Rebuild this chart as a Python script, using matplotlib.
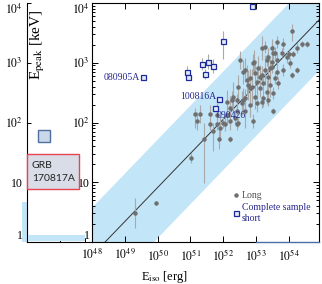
import numpy as np
import matplotlib
matplotlib.use("Agg")
import matplotlib.pyplot as plt
from matplotlib.lines import Line2D
from matplotlib.patches import Rectangle
from matplotlib.ticker import FixedLocator, FixedFormatter, NullLocator, LogLocator

plt.rcParams['font.family'] = 'serif'
plt.rcParams['font.serif'] = ['Liberation Serif', 'DejaVu Serif']
plt.rcParams['mathtext.fontset'] = 'stix'

# ---------------- data (log10 values) ----------------
long_log_eiso = [49.31, 49.95, 51.02, 51.41, 51.14, 51.29, 51.60, 51.60, 51.69, 51.87,
                 51.90, 52.21, 52.05, 52.21, 52.36, 52.45, 52.12, 52.27, 52.42, 54.10,
                 54.40, 54.55, 54.25, 53.82, 53.18, 53.27, 53.64, 53.52, 53.37, 53.79,
                 54.01, 54.13, 53.34, 53.49, 52.91, 53.06, 53.27, 53.43, 53.64, 53.82,
                 52.97, 53.18, 53.37, 53.58, 53.03, 53.21, 53.43, 53.67, 52.88, 53.12,
                 53.34, 53.52, 52.97, 53.21, 52.51, 52.60, 52.73, 52.45, 52.82, 52.30,
                 52.60, 52.21, 52.42, 52.66, 52.12, 52.91, 51.99, 51.81, 53.52, 53.12,
                 53.49, 53.64, 53.95, 53.49, 53.58, 54.04, 54.25, 54.10, 53.37, 53.18,
                 53.03, 52.82, 52.66, 52.42, 52.94, 52.66, 52.82, 52.76, 52.57, 51.20,
                 51.81]
long_log_epeak = [0.49, 0.66, 1.41, 1.73, 2.14, 2.14, 2.14, 1.98, 1.85, 1.73,
                  1.90, 1.73, 1.98, 2.03, 2.07, 2.00, 2.34, 2.37, 2.37, 3.53,
                  3.32, 3.31, 3.25, 3.31, 3.25, 3.27, 3.34, 3.17, 3.10, 3.17,
                  3.14, 3.14, 3.05, 3.02, 3.00, 2.92, 2.88, 2.92, 2.85, 2.88,
                  2.83, 2.80, 2.76, 2.75, 2.68, 2.66, 2.63, 2.66, 2.59, 2.58,
                  2.51, 2.49, 2.42, 2.41, 3.05, 2.85, 2.71, 2.59, 2.58, 2.42,
                  2.37, 2.25, 2.20, 2.20, 2.12, 2.03, 2.00, 2.12, 2.20, 2.76,
                  2.93, 3.05, 3.10, 3.25, 3.17, 3.00, 2.88, 2.80, 2.37, 2.34,
                  2.32, 2.29, 2.41, 1.98, 3.02, 2.88, 2.75, 2.63, 2.32, 2.03,
                  1.98]
long_err_lo = [0.25, 0.03, 0.08, 0.75, 0.24, 0.15, 0.15, 0.10, 0.32, 0.17,
               0.20, 0.05, 0.12, 0.15, 0.10, 0.08, 0.20, 0.15, 0.10, 0.17,
               0.05, 0.05, 0.08, 0.10, 0.20, 0.10, 0.10, 0.12, 0.15, 0.08,
               0.08, 0.05, 0.10, 0.12, 0.15, 0.20, 0.25, 0.15, 0.10, 0.10,
               0.20, 0.15, 0.30, 0.10, 0.20, 0.15, 0.20, 0.10, 0.30, 0.15,
               0.20, 0.10, 0.20, 0.15, 0.15, 0.20, 0.25, 0.20, 0.30, 0.25,
               0.20, 0.20, 0.15, 0.30, 0.15, 0.12, 0.10, 0.20, 0.05, 0.20,
               0.10, 0.10, 0.10, 0.15, 0.10, 0.08, 0.05, 0.05, 0.10, 0.10,
               0.15, 0.20, 0.15, 0.10, 0.20, 0.20, 0.15, 0.25, 0.20, 0.15,
               0.10]
long_err_hi = [0.25, 0.03, 0.08, 0.27, 0.10, 0.15, 0.15, 0.10, 0.14, 0.15,
               0.20, 0.05, 0.12, 0.15, 0.10, 0.08, 0.20, 0.15, 0.10, 0.12,
               0.05, 0.05, 0.08, 0.10, 0.20, 0.10, 0.10, 0.12, 0.15, 0.08,
               0.08, 0.05, 0.10, 0.12, 0.15, 0.20, 0.25, 0.15, 0.10, 0.10,
               0.20, 0.15, 0.30, 0.10, 0.20, 0.15, 0.20, 0.10, 0.30, 0.15,
               0.20, 0.10, 0.20, 0.15, 0.15, 0.20, 0.25, 0.20, 0.30, 0.25,
               0.20, 0.20, 0.15, 0.30, 0.15, 0.12, 0.10, 0.20, 0.05, 0.20,
               0.10, 0.10, 0.10, 0.15, 0.10, 0.08, 0.05, 0.05, 0.10, 0.10,
               0.15, 0.20, 0.15, 0.10, 0.20, 0.20, 0.15, 0.25, 0.20, 0.15,
               0.10]

short_log_eiso = [52.88, 51.99, 50.90, 50.93, 51.35, 51.54, 51.69, 51.45, 49.55, 51.87, 51.75]
short_log_epeak = [3.95, 3.36, 2.85, 2.76, 2.98, 3.02, 2.95, 2.81, 2.76, 2.39, 2.25]
short_err_lo = [0.00, 0.30, 0.10, 0.05, 0.10, 0.12, 0.12, 0.08, 0.00, 0.00, 0.00]
short_err_hi = [0.00, 0.17, 0.10, 0.05, 0.10, 0.12, 0.12, 0.08, 0.00, 0.00, 0.00]
short_names = ['', '', '', '', '', '', '', '', '080905A', '100816A', '090426']

# Amati-like fit and band (log space)
fit_slope = 0.57
fit_x0 = 48.4
band_up = 0.80
band_dn = 0.85

grb170817_epeak = 60.0
x_tick_exps = [48, 49, 50, 51, 52, 53, 54]
y_ticks = [1, 10, 100, 1000, 10000]
y_tick_labels = ['1', '10', r'$10^{2}$', r'$10^{3}$', r'$10^{4}$']

# ---------------- figure ----------------
W, H = 322, 284
fig = plt.figure(figsize=(W / 100, H / 100), dpi=100)

def fx(px):
    return px / W

def fy(py):
    return 1 - py / H

BAND = '#c3e5f8'
BLUE_TXT = '#28288c'
AX_TOP, AX_BOT = 3, 242


def fix_end_labels(a):
    labs = a.get_yticklabels()
    labs[0].set_verticalalignment('bottom')
    labs[-1].set_verticalalignment('top')


# Left narrow panel
axl = fig.add_axes([fx(27), fy(AX_BOT), fx(65), (AX_BOT - AX_TOP) / H])
axl.set_yscale('log')
axl.set_ylim(1, 1e4)
axl.set_xlim(0, 1)
axl.spines['top'].set_visible(False)
axl.spines['right'].set_visible(False)
axl.yaxis.set_major_locator(FixedLocator(y_ticks))
axl.yaxis.set_major_formatter(FixedFormatter(y_tick_labels))
axl.yaxis.set_minor_locator(NullLocator())
axl.xaxis.set_major_locator(FixedLocator([0.51, 0.89]))
axl.set_xticklabels([])
axl.tick_params(axis='both', direction='in', labelsize=8.5, pad=3, length=3, width=0.7)
for s in axl.spines.values():
    s.set_linewidth(0.8)
axl.plot([0.26], [grb170817_epeak], marker='s', ms=8.5, mfc='#cad9ea', mec='#4f6f9f', mew=1.0,
         linestyle='none', clip_on=False)

# Main panel
ax = fig.add_axes([fx(92), fy(AX_BOT), fx(227), (AX_BOT - AX_TOP) / H])
ax.set_xscale('log')
ax.set_yscale('log')
ax.set_xlim(1e48, 10 ** 54.92)
ax.set_ylim(1, 1e4)

xs = np.logspace(47.5, 55.5, 100)
yfit = 10 ** (fit_slope * (np.log10(xs) - fit_x0))
ax.fill_between(xs, yfit * 10 ** (-band_dn), yfit * 10 ** band_up, color=BAND, lw=0, zorder=1)
ax.plot(xs, yfit, color='#333333', lw=0.7, zorder=2)

lx = 10 ** np.array(long_log_eiso)
ly = 10 ** np.array(long_log_epeak)
lerr = [ly - ly * 10 ** (-np.array(long_err_lo)), ly * 10 ** np.array(long_err_hi) - ly]
ax.errorbar(lx, ly, yerr=lerr, fmt='o', ms=2.2, color='#6f6f6f', ecolor='#a9a9a9',
            elinewidth=0.8, capsize=0, zorder=3)

sx = 10 ** np.array(short_log_eiso)
sy = 10 ** np.array(short_log_epeak)
serr = [sy - sy * 10 ** (-np.array(short_err_lo)), sy * 10 ** np.array(short_err_hi) - sy]
ax.errorbar(sx, sy, yerr=serr, fmt='none', ecolor='#a9a9a9', elinewidth=0.8, capsize=0, zorder=3)
ax.plot(sx, sy, 's', ms=3.6, mfc='#e3e9f7', mec='#1c2a9c', mew=0.9, linestyle='none', zorder=4)

offsets = {'080905A': (-2, 0, 'right', 'center'),
           '100816A': (-2, 2, 'right', 'center'),
           '090426': (1, -6, 'left', 'center')}
for name, x, y in zip(short_names, sx, sy):
    if name:
        dx, dy, ha, va = offsets[name]
        ax.annotate(name, (x, y), xytext=(dx, dy), textcoords='offset points',
                    ha=ha, va=va, fontsize=7, color=BLUE_TXT, zorder=5)

ax.xaxis.set_major_locator(FixedLocator([10.0 ** e for e in x_tick_exps]))
ax.xaxis.set_major_formatter(FixedFormatter([r'$10^{%d}$' % e for e in x_tick_exps]))
ax.xaxis.set_minor_locator(NullLocator())
ax.yaxis.set_major_locator(FixedLocator(y_ticks))
ax.yaxis.set_major_formatter(FixedFormatter(y_tick_labels))
ax.yaxis.set_minor_locator(LogLocator(base=10, subs=np.arange(2, 10)))
ax.yaxis.set_minor_formatter(FixedFormatter([]))
ax.tick_params(which='both', direction='in', top=True, right=True, labelsize=8.5, width=0.7)
ax.tick_params(which='major', length=4)
ax.tick_params(which='minor', length=2)
ax.tick_params(axis='y', pad=1.5)
ax.tick_params(axis='x', pad=4)
for s in ax.spines.values():
    s.set_linewidth(0.8)
ax.spines['bottom'].set_bounds(1e48, 1e53)
ax.plot([1e53, 10 ** 54.92], [0.99, 0.99], color='#4a6fa5', lw=1.0, clip_on=False, zorder=6)

fix_end_labels(ax)
fix_end_labels(axl)

ax.set_xlabel(r'E$_{\rm iso}$ [erg]', fontsize=9, labelpad=0)
ax.xaxis.set_label_coords(0.32, -0.115)

handles = [Line2D([], [], marker='o', ms=2.2, color='#6f6f6f', linestyle='none'),
           Line2D([], [], marker='s', ms=3.6, mfc='#e3e9f7', mec='#1c2a9c', mew=0.9, linestyle='none')]
leg = ax.legend(handles, ['Long', 'Complete sample\nshort'], loc='upper left',
                bbox_to_anchor=((233 - 92) / 227, (AX_BOT - 191) / (AX_BOT - AX_TOP)), frameon=False,
                fontsize=7, handlelength=0.6, handletextpad=0.3, labelspacing=0.35,
                borderpad=0, borderaxespad=0)
leg.get_texts()[0].set_color('#505050')
leg.get_texts()[1].set_color(BLUE_TXT)

# y label on the left panel
fig.text(fx(38), fy(45), r'E$_{\rm peak}$ [keV]', rotation=90, ha='center', va='center', fontsize=11)

# GRB 170817A box
fig.patches.append(Rectangle((fx(27), fy(189)), 52 / W, 35 / H, transform=fig.transFigure,
                             facecolor='#d8dde7', edgecolor='#e8434f', lw=1.0, zorder=5))
fig.text(fx(32), fy(172), 'GRB\n170817A', family=['Lato', 'DejaVu Sans'], fontsize=7.5,
         ha='left', va='center', linespacing=1.55, color='#222222', zorder=6)

# light-blue fragments at the bottom of the left panel
fig.patches.append(Rectangle((fx(22), fy(242)), 5 / W, 40 / H, transform=fig.transFigure,
                             facecolor=BAND, edgecolor='none', zorder=-1))
fig.patches.append(Rectangle((fx(28), fy(241)), 57 / W, 6 / H, transform=fig.transFigure,
                             facecolor=BAND, edgecolor='none', zorder=2))

fig.savefig('out.png', dpi=100)
